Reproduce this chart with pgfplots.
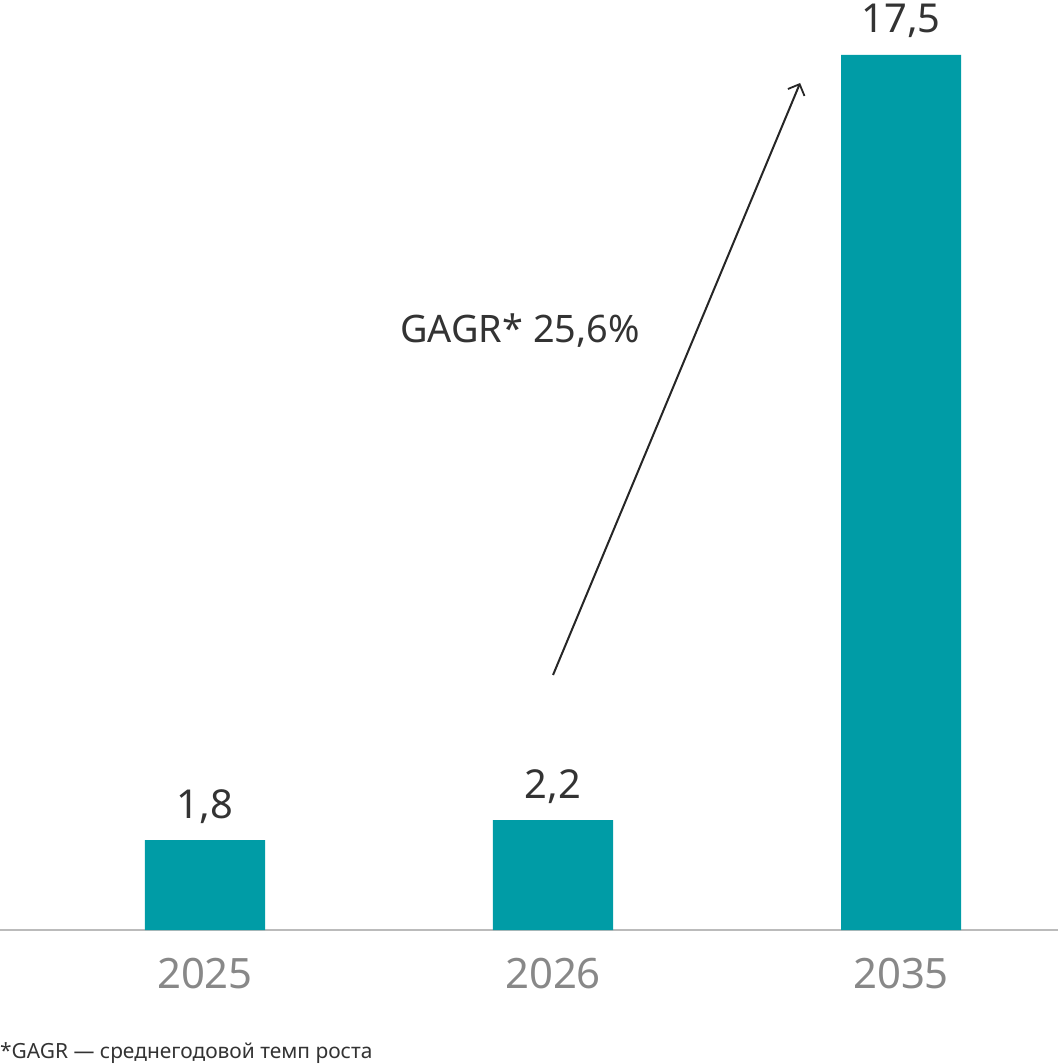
\documentclass[border=0pt]{standalone}
\usepackage{pgfplots}
\pgfplotsset{compat=1.18}
\usetikzlibrary{arrows.meta}
\usepackage{fontspec}
\setmainfont{Noto Sans}
\definecolor{teal1}{HTML}{009CA6}
\definecolor{axgray}{HTML}{BBBBBB}
\definecolor{tickgray}{HTML}{888888}
\definecolor{txt}{HTML}{333333}
\begin{document}
\begin{tikzpicture}
\begin{axis}[
  scale only axis,
  width=1058bp, height=930bp,
  xmin=-0.589, xmax=2.451,
  ymin=0, ymax=18.6,
  axis x line=bottom,
  axis y line=none,
  axis line style={axgray, line width=1.2bp, -},
  x axis line style={-},
  xtick={0,1,2},
  xticklabels={2025,2026,2035},
  major tick length=0pt,
  xticklabel style={font=\fontsize{42}{50}\selectfont, text=tickgray, anchor=base, yshift=-58bp},
  /pgf/number format/assume math mode=true,
  ytick=\empty,
  clip=false,
]
\addplot[ybar, bar width=0.345, fill=teal1, draw=none,
  nodes near coords,
  nodes near coords style={font=\fontsize{40}{48}\selectfont, text=txt, anchor=base, yshift=22bp,
    /pgf/number format/.cd, fixed, precision=1, fixed zerofill, use comma, assume math mode=true},
] coordinates {(0,1.8) (1,2.2) (2,17.5)};
\draw[-{Straight Barb[length=9bp,width=18bp,line width=1.8bp]}, line width=2bp, black!85] (axis cs:1.0,5.1) -- (axis cs:1.710,16.94);
\node[font=\fontsize{38}{46}\selectfont, text=txt] at (axis cs:0.905,11.98) {GAGR* 25,6\%};
\coordinate (bl) at (rel axis cs:0,0);
\coordinate (tr) at (rel axis cs:1,1);
\node[anchor=base west, inner sep=0pt, font=\fontsize{21}{25}\selectfont, text=txt] at ([yshift=-128bp]rel axis cs:0,0) {*GAGR — среднегодовой темп роста};
\end{axis}
\pgfresetboundingbox
\path (bl) ++(0,-134bp) rectangle (tr);
\end{tikzpicture}
\end{document}
